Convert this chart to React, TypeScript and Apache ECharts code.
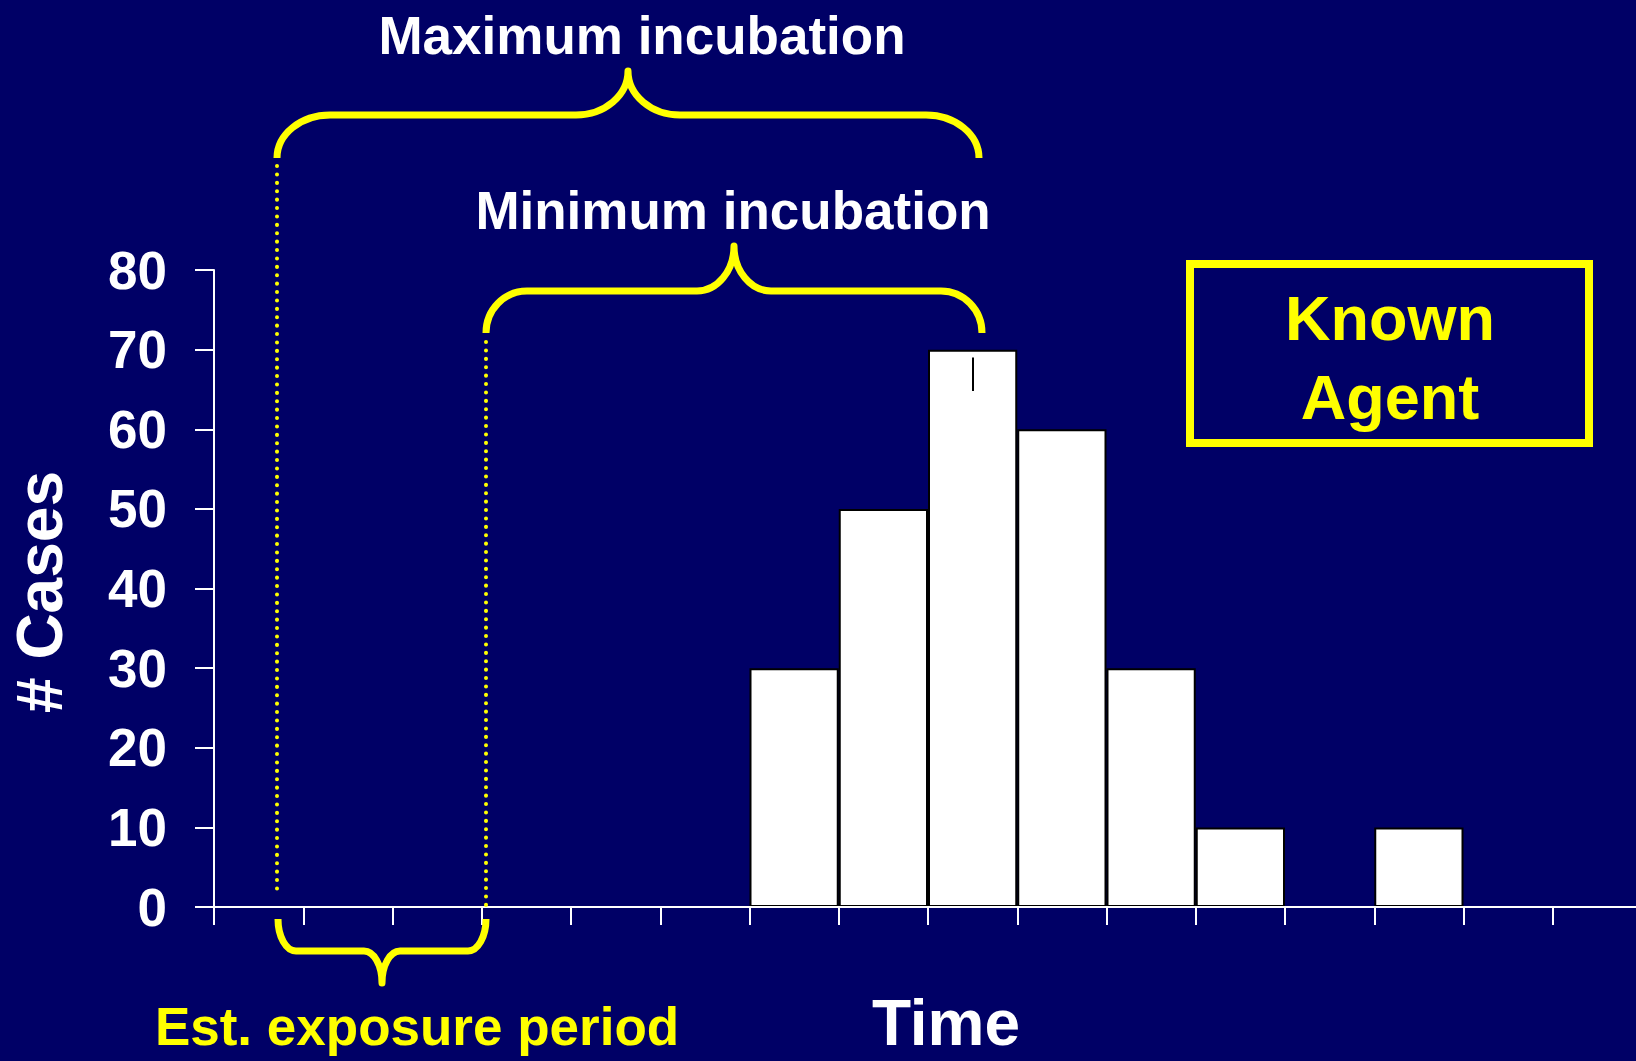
import React, { useEffect, useRef } from 'react';
import * as echarts from 'echarts';

// ---- data ----
const categories = ['1', '2', '3', '4', '5', '6', '7', '8', '9', '10', '11', '12', '13', '14', '15', '16'];
const cases = [0, 0, 0, 0, 0, 0, 30, 50, 70, 60, 30, 10, 0, 10, 0, 0];
const yMin = 0;
const yMax = 80;
const yStep = 10;
const markerCategory = '9';
const markerRange = [69, 64.8];

const yAxisTitle = '# Cases';
const xAxisTitle = 'Time';
const maxLabel = 'Maximum incubation';
const minLabel = 'Minimum incubation';
const exposureLabel = 'Est. exposure period';
const boxLines = ['Known', 'Agent'];

// ---- styles ----
const NAVY = '#000066';
const YELLOW = '#ffff00';
const WHITE = '#ffffff';
const FONT = '"Liberation Sans", Arial, Helvetica, sans-serif';

function bracePath(x1: number, x2: number, yEnd: number, yBar: number, yTip: number, cw: number, pw: number) {
  const k = 0.552;
  const xm = (x1 + x2) / 2;
  const cy = yEnd + (yBar - yEnd) * k;
  const ty = yTip + (yBar - yTip) * k;
  return [
    `M${x1},${yEnd}`,
    `C${x1},${cy} ${x1 + cw * (1 - k)},${yBar} ${x1 + cw},${yBar}`,
    `L${xm - pw},${yBar}`,
    `C${xm - pw * (1 - k)},${yBar} ${xm},${ty} ${xm},${yTip}`,
    `C${xm},${ty} ${xm + pw * (1 - k)},${yBar} ${xm + pw},${yBar}`,
    `L${x2 - cw},${yBar}`,
    `C${x2 - cw * (1 - k)},${yBar} ${x2},${cy} ${x2},${yEnd}`,
  ].join(' ');
}

echarts.graphic.registerShape('braceMax', echarts.graphic.extendPath(bracePath(277, 979, 158, 115, 71, 53, 52), {}));
echarts.graphic.registerShape('braceMin', echarts.graphic.extendPath(bracePath(486, 982, 333, 291, 246, 41, 37), {}));
echarts.graphic.registerShape('braceExp', echarts.graphic.extendPath(bracePath(278, 486, 919, 951, 983, 18, 18), {}));

export default function App() {
  const ref = useRef<HTMLDivElement>(null);

  useEffect(() => {
    document.documentElement.style.overflow = 'hidden';
    document.body.style.margin = '0';
    document.body.style.overflow = 'hidden';
    document.body.style.background = NAVY;
    if (!ref.current) return;
    const chart = echarts.init(ref.current, undefined, { renderer: 'svg' });

    const braceStyle = { stroke: YELLOW, fill: 'none', lineWidth: 7, lineJoin: 'round', lineCap: 'butt' };
    const dotStyle = { stroke: YELLOW, lineWidth: 4, lineDash: [0.1, 8.3], lineCap: 'round' };
    const text = (t: string, x: number, y: number, size: number, color: string, extra: any = {}) => ({
      type: 'text',
      x,
      y,
      z: 20,
      ...extra,
      style: {
        text: t,
        x: 0,
        y: 0,
        fill: color,
        fontSize: size,
        fontWeight: 'bold',
        fontFamily: FONT,
        align: 'center',
        verticalAlign: 'middle',
      },
    });

    chart.setOption({
      animation: false,
      backgroundColor: NAVY,
      grid: { left: 214, top: 270, width: 1428, height: 637, containLabel: false },
      xAxis: {
        type: 'category',
        data: categories,
        z: 5,
        boundaryGap: true,
        axisLine: { show: true, lineStyle: { color: WHITE, width: 2 } },
        axisTick: { show: true, interval: 0, length: 18, lineStyle: { color: WHITE, width: 2 } },
        axisLabel: { show: false },
        splitLine: { show: false },
      },
      yAxis: {
        type: 'value',
        min: yMin,
        max: yMax,
        interval: yStep,
        z: 5,
        axisLine: { show: true, lineStyle: { color: WHITE, width: 2 } },
        axisTick: { show: true, length: 19, lineStyle: { color: WHITE, width: 2 } },
        axisLabel: {
          show: true,
          margin: 47,
          color: WHITE,
          fontSize: 53,
          fontWeight: 'bold',
          fontFamily: FONT,
        },
        splitLine: { show: false },
      },
      series: [
        {
          type: 'bar',
          data: cases,
          barWidth: '100%',
          barCategoryGap: 0,
          itemStyle: { color: WHITE, borderColor: '#000000', borderWidth: 2 },
          silent: true,
          markLine: {
            silent: true,
            symbol: ['none', 'none'],
            label: { show: false },
            lineStyle: { color: '#000000', width: 2, type: 'solid' },
            data: [[{ coord: [markerCategory, markerRange[0]] }, { coord: [markerCategory, markerRange[1]] }]],
          },
        },
      ],
      graphic: [
        { type: 'braceMax', x: 0, y: 0, z: 15, style: braceStyle },
        { type: 'braceMin', x: 0, y: 0, z: 15, style: braceStyle },
        { type: 'braceExp', x: 0, y: 0, z: 15, style: braceStyle },
        { type: 'line', z: 14, shape: { x1: 277, y1: 166, x2: 277, y2: 895 }, style: dotStyle },
        { type: 'line', z: 14, shape: { x1: 486, y1: 342, x2: 486, y2: 912 }, style: dotStyle },
        {
          type: 'rect',
          z: 15,
          shape: { x: 1190, y: 264, width: 399, height: 179 },
          style: { stroke: YELLOW, fill: 'none', lineWidth: 8 },
        },
        text(boxLines[0], 1390, 318, 63, YELLOW),
        text(boxLines[1], 1390, 397, 63, YELLOW),
        text(maxLabel, 642, 35, 53, WHITE),
        text(minLabel, 733, 210, 53, WHITE),
        text(exposureLabel, 417, 1026, 53, YELLOW),
        text(xAxisTitle, 946, 1023, 64, WHITE),
        text(yAxisTitle, 40, 592, 64, WHITE, { rotation: Math.PI / 2 }),
      ],
    });

    return () => chart.dispose();
  }, []);

  return <div ref={ref} style={{ width: 1680, height: 1061 }} />;
}
